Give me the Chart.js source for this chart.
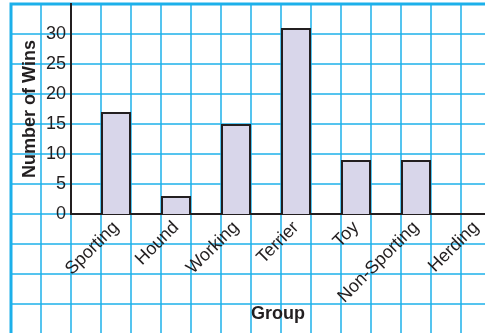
<!DOCTYPE html>
<html>
<head>
<meta charset="utf-8">
<script src="https://cdn.jsdelivr.net/npm/chart.js@4.4.1/dist/chart.umd.min.js"></script>
<style>
  html, body { margin: 0; padding: 0; background: #fff; overflow: hidden; }
  #wrap { width: 485px; height: 333px; }
</style>
</head>
<body>
<div id="wrap"><canvas id="wins-chart" width="485" height="333"></canvas></div>
<script>
// dados do grafico
const groups = ['Sporting', 'Hound', 'Working', 'Terrier', 'Toy', 'Non-Sporting', 'Herding'];
const wins = [17, 3, 15, 31, 9, 9, 0];
const yTicks = [0, 5, 10, 15, 20, 25, 30];

const ink = '#231f20';
const gridBlue = '#1cb0ea';

// papel quadriculado desenhado atras do grafico, a partir das escalas
const paperGrid = {
  id: 'paperGrid',
  beforeDraw(chart) {
    const { ctx, width, height, scales: { x, y } } = chart;
    const top = y.getPixelForValue(35);
    const left = x.getPixelForValue(-1.75);
    ctx.save();
    ctx.fillStyle = '#fff';
    ctx.fillRect(0, 0, width, height);
    ctx.strokeStyle = gridBlue;
    ctx.lineWidth = 1.5;
    for (let v = -25; v < 35; v += 5) {
      const py = y.getPixelForValue(v);
      ctx.beginPath();
      ctx.moveTo(left, py);
      ctx.lineTo(width, py);
      ctx.stroke();
    }
    for (let v = -1.25; v < 8; v += 0.5) {
      const px = x.getPixelForValue(v);
      ctx.beginPath();
      ctx.moveTo(px, top);
      ctx.lineTo(px, height);
      ctx.stroke();
    }
    // bordas mais grossas
    ctx.lineWidth = 3;
    ctx.beginPath();
    ctx.moveTo(left, height);
    ctx.lineTo(left, top);
    ctx.lineTo(width, top);
    ctx.stroke();
    ctx.restore();
  }
};

const ctx = document.getElementById('wins-chart').getContext('2d');
const chart = new Chart(ctx, {
  type: 'bar',
  data: {
    datasets: [{
      label: 'Number of Wins',
      data: wins.map((v, i) => ({ x: i, y: v })),
      backgroundColor: '#d8d6ea',
      borderColor: ink,
      borderWidth: 2,
      barPercentage: 0.5,
      categoryPercentage: 1
    }]
  },
  options: {
    responsive: false,
    animation: false,
    layout: { padding: { top: 4, left: 0, right: 0, bottom: 0 } },
    plugins: {
      legend: { display: false },
      tooltip: { enabled: false }
    },
    scales: {
      x: {
        type: 'linear',
        offset: false,
        min: -0.75,
        max: 6.15,
        afterFit: s => { s.height = 119; s.paddingLeft = 0; s.paddingRight = 0; },
        afterBuildTicks: s => { s.ticks = groups.map((g, i) => ({ value: i })); },
        grid: { display: false, offset: false, drawTicks: false },
        border: { display: true, color: ink, width: 2 },
        ticks: {
          autoSkip: false,
          minRotation: 45,
          maxRotation: 45,
          padding: 3,
          color: ink,
          font: { family: 'Liberation Sans, Arial, sans-serif', size: 18 },
          callback: v => groups[v] || ''
        },
        title: {
          display: true,
          text: 'Group',
          color: ink,
          padding: { top: 0, bottom: 8 },
          font: { family: 'Liberation Sans, Arial, sans-serif', size: 18, weight: 'bold' }
        }
      },
      y: {
        min: 0,
        max: 35,
        afterFit: s => { s.width = 71; s.paddingTop = 0; s.paddingBottom = 0; },
        afterBuildTicks: s => { s.ticks = yTicks.map(v => ({ value: v })); },
        grid: { display: false, drawTicks: false },
        border: { display: true, color: ink, width: 2 },
        ticks: {
          padding: 5,
          color: ink,
          font: { family: 'Liberation Sans, Arial, sans-serif', size: 18 }
        },
        title: {
          display: true,
          text: 'Number of Wins',
          color: ink,
          padding: { top: 19, bottom: 0 },
          font: { family: 'Liberation Sans, Arial, sans-serif', size: 18, weight: 'bold' }
        }
      }
    }
  },
  plugins: [paperGrid]
});
</script>
</body>
</html>
